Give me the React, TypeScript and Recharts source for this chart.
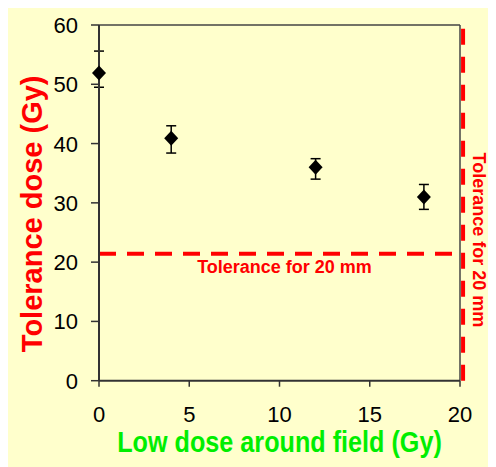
import React from "react";
import {
  ScatterChart,
  Scatter,
  XAxis,
  YAxis,
  ErrorBar,
  ReferenceLine,
  Label,
} from "recharts";

const fieldDose = [0, 4, 12, 18];
const toleranceDose = [51.9, 40.9, 36.0, 31.0];
const errLow = [2.4, 2.5, 2.0, 2.1];
const errHigh = [3.7, 2.1, 1.45, 2.1];
const xTicks = [0, 5, 10, 15, 20];
const yTicks = [0, 10, 20, 30, 40, 50, 60];
const toleranceLevel = 21.4;
const toleranceEdge = 20.17;

const data = fieldDose.map((x, i) => ({
  x,
  y: toleranceDose[i],
  err: [errLow[i], errHigh[i]],
}));

const FONT = "'Liberation Sans', Arial, sans-serif";

const Diamond = (props: any) => {
  const { cx, cy } = props;
  return (
    <path
      d={`M${cx},${cy - 7.5} L${cx + 7},${cy} L${cx},${cy + 7.5} L${cx - 7},${cy} Z`}
      fill="#000"
    />
  );
};

const YTick = (props: any) => {
  const { x, y, payload } = props;
  return (
    <text x={x} y={y} dy={8} textAnchor="end" fontFamily={FONT} fontSize={22} fill="#000">
      {payload.value}
    </text>
  );
};

const XTick = (props: any) => {
  const { x, y, payload } = props;
  return (
    <text x={x} y={y} dy={15} textAnchor="middle" fontFamily={FONT} fontSize={22} fill="#000">
      {payload.value}
    </text>
  );
};

export default function App() {
  return (
    <div style={{ marginTop: -4, width: 480, height: 463, background: "#FFFFCC" }}>
      <ScatterChart
        width={480}
        height={463}
        margin={{ top: 21, right: 28, left: 0, bottom: 0 }}
      >
        <XAxis
          type="number"
          dataKey="x"
          domain={[0, 20]}
          ticks={xTicks}
          interval={0}
          tickSize={6}
          tickMargin={20}
          height={86.3}
          axisLine={{ stroke: "#333", strokeWidth: 2 }}
          tickLine={{ stroke: "#333", strokeWidth: 1.5 }}
          tick={<XTick />}
        >
          <Label
            content={(p: any) => {
              const vb = p.viewBox || {};
              const cx = vb.x + vb.width / 2;
              const by = vb.y + 71.5;
              return (
                <g transform={`translate(${cx},${by}) scale(0.84,1)`}>
                  <text
                    x={0}
                    y={0}
                    textAnchor="middle"
                    fontFamily={FONT}
                    fontWeight="bold"
                    fontSize={30}
                    fill="#00EE00"
                  >
                    Low dose around field (Gy)
                  </text>
                </g>
              );
            }}
          />
        </XAxis>
        <YAxis
          type="number"
          dataKey="y"
          domain={[0, 60]}
          ticks={yTicks}
          interval={0}
          width={91}
          tickSize={8}
          tickMargin={13}
          axisLine={{ stroke: "#333", strokeWidth: 2 }}
          tickLine={{ stroke: "#333", strokeWidth: 1.5 }}
          tick={<YTick />}
        >
          <Label
            content={(p: any) => {
              const vb = p.viewBox || {};
              const cy = vb.y + vb.height / 2 + 11;
              return (
                <text
                  transform={`translate(34.3,${cy}) rotate(-90)`}
                  x={0}
                  y={0}
                  textAnchor="middle"
                  fontFamily={FONT}
                  fontWeight="bold"
                  fontSize={29}
                  fill="#FF0000"
                >
                  Tolerance dose (Gy)
                </text>
              );
            }}
          />
        </YAxis>
        <ReferenceLine y={60} stroke="#444" strokeWidth={1.5} />
        <ReferenceLine x={20} stroke="#444" strokeWidth={1.5} />
        <ReferenceLine
          y={toleranceLevel}
          stroke="#FF0000"
          strokeWidth={4}
          strokeDasharray="17 11"
        >
          <Label
            content={(p: any) => {
              const vb = p.viewBox || {};
              const cx = vb.x + vb.width / 2 + 5;
              const by = vb.y + 19;
              return (
                <text
                  x={cx}
                  y={by}
                  textAnchor="middle"
                  fontFamily={FONT}
                  fontWeight="bold"
                  fontSize={18}
                  fill="#FF0000"
                >
                  Tolerance for 20 mm
                </text>
              );
            }}
          />
        </ReferenceLine>
        <ReferenceLine
          x={toleranceEdge}
          ifOverflow="visible"
          stroke="#FF0000"
          strokeWidth={4}
          strokeDasharray="16 12"
        >
          <Label
            content={(p: any) => {
              const vb = p.viewBox || {};
              const cy = vb.y + vb.height / 2 + 37;
              return (
                <text
                  transform={`translate(${vb.x + 10},${cy}) rotate(90)`}
                  x={0}
                  y={0}
                  textAnchor="middle"
                  fontFamily={FONT}
                  fontWeight="bold"
                  fontSize={18}
                  fill="#FF0000"
                >
                  Tolerance for 20 mm
                </text>
              );
            }}
          />
        </ReferenceLine>
        <Scatter data={data} shape={<Diamond />} isAnimationActive={false}>
          <ErrorBar
            dataKey="err"
            direction="y"
            width={5}
            stroke="#000"
            strokeWidth={1.5}
            isAnimationActive={false}
          />
        </Scatter>
      </ScatterChart>
    </div>
  );
}
